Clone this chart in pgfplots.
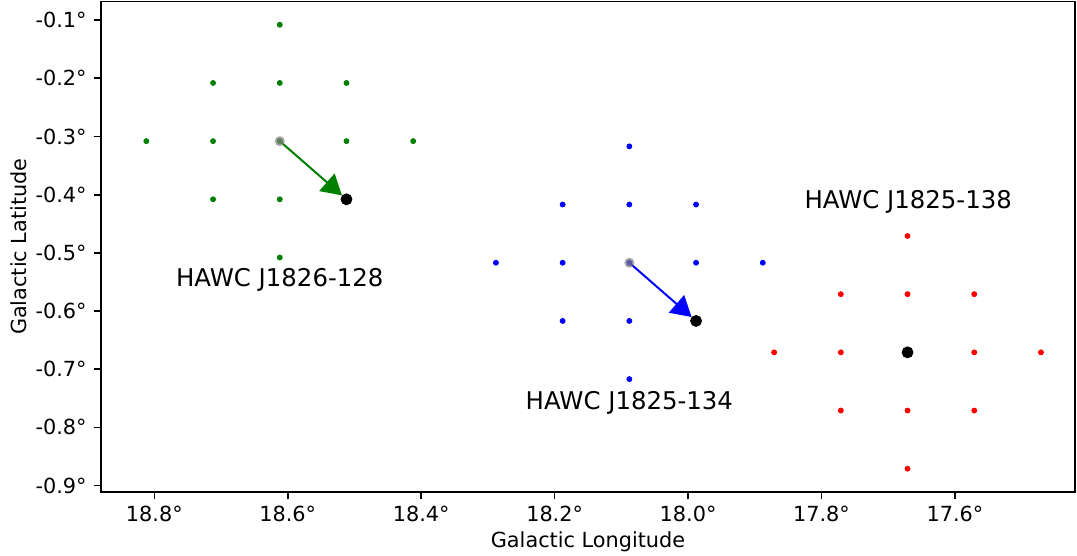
\documentclass[border=0pt]{standalone}
\usepackage{fontspec}
\setmainfont{DejaVu Sans}
\usepackage{pgfplots}
\pgfplotsset{compat=1.18}
\usetikzlibrary{arrows.meta}
\definecolor{mgreen}{HTML}{008000}
\definecolor{mblue}{HTML}{0000FF}
\definecolor{mred}{HTML}{FF0000}
\definecolor{mgray}{HTML}{808080}
\begin{document}
\begin{tikzpicture}
\begin{axis}[
  scale only axis, width=487pt, height=245.25pt,
  x dir=reverse,
  xmin=17.42, xmax=18.88, ymin=-0.911, ymax=-0.068,
  xtick={17.6,17.8,18.0,18.2,18.4,18.6,18.8},
  ytick={-0.9,-0.8,-0.7,-0.6,-0.5,-0.4,-0.3,-0.2,-0.1},
  /pgf/number format/assume math mode=true,
  xticklabel={\pgfmathprintnumber[fixed,fixed zerofill,precision=1]{\tick}°},
  yticklabel={\pgfmathprintnumber[fixed,fixed zerofill,precision=1]{\tick}°},
  tick align=outside, major tick length=3.65pt,
  xtick pos=lower, ytick pos=left,
  tick style={line width=0.83pt, black},
  axis line style={line width=0.83pt},
  tick label style={font=\fontsize{10.4}{12}\selectfont},
  label style={font=\fontsize{10.4}{12}\selectfont},
  xlabel={Galactic Longitude}, ylabel={Galactic Latitude},
  x label style={at={(axis description cs:0.5,-0.114)}, anchor=base},
  y label style={at={(axis description cs:-0.0847,0.5)}, anchor=center},
]
\addplot[only marks, mark=*, mark size=1.25pt, mgreen] coordinates {
(18.612,-0.108)
(18.712,-0.208)(18.612,-0.208)(18.512,-0.208)
(18.812,-0.308)(18.712,-0.308)(18.612,-0.308)(18.512,-0.308)(18.412,-0.308)
(18.712,-0.408)(18.612,-0.408)(18.512,-0.408)
(18.612,-0.508)};
\addplot[only marks, mark=*, mark size=1.25pt, mblue] coordinates {
(18.088,-0.317)
(18.188,-0.417)(18.088,-0.417)(17.988,-0.417)
(18.288,-0.517)(18.188,-0.517)(18.088,-0.517)(17.988,-0.517)(17.888,-0.517)
(18.188,-0.617)(18.088,-0.617)(17.988,-0.617)
(18.088,-0.717)};
\addplot[only marks, mark=*, mark size=1.25pt, mred] coordinates {
(17.671,-0.471)
(17.771,-0.571)(17.671,-0.571)(17.571,-0.571)
(17.871,-0.671)(17.771,-0.671)(17.671,-0.671)(17.571,-0.671)(17.471,-0.671)
(17.771,-0.771)(17.671,-0.771)(17.571,-0.771)
(17.671,-0.871)};
\addplot[only marks, mark=*, mark size=2.5pt, mgray, mark options={draw opacity=0, fill opacity=0.7}] coordinates {
(18.612,-0.308)(18.088,-0.517)};
\addplot[mgreen, line width=1pt, shorten >=3pt, -{Triangle[length=10pt,width=11.5pt]}] coordinates {(18.612,-0.308)(18.512,-0.408)};
\addplot[mblue, line width=1pt, shorten >=3pt, -{Triangle[length=10pt,width=11.5pt]}] coordinates {(18.088,-0.517)(17.988,-0.617)};
\addplot[only marks, mark=*, mark size=2.75pt, black] coordinates {
(18.512,-0.408)(17.988,-0.617)(17.671,-0.671)};
\node[font=\fontsize{12.2}{14}\selectfont] at (axis cs:18.612,-0.546) {HAWC J1826-128};
\node[font=\fontsize{12.2}{14}\selectfont] at (axis cs:18.088,-0.758) {HAWC J1825-134};
\node[font=\fontsize{12.2}{14}\selectfont] at (axis cs:17.67,-0.412) {HAWC J1825-138};
\end{axis}
\pgfresetboundingbox
\path (current axis.south west) ++(-50.5pt,-32pt) rectangle ++(538.5pt,278pt);
\end{tikzpicture}
\end{document}
